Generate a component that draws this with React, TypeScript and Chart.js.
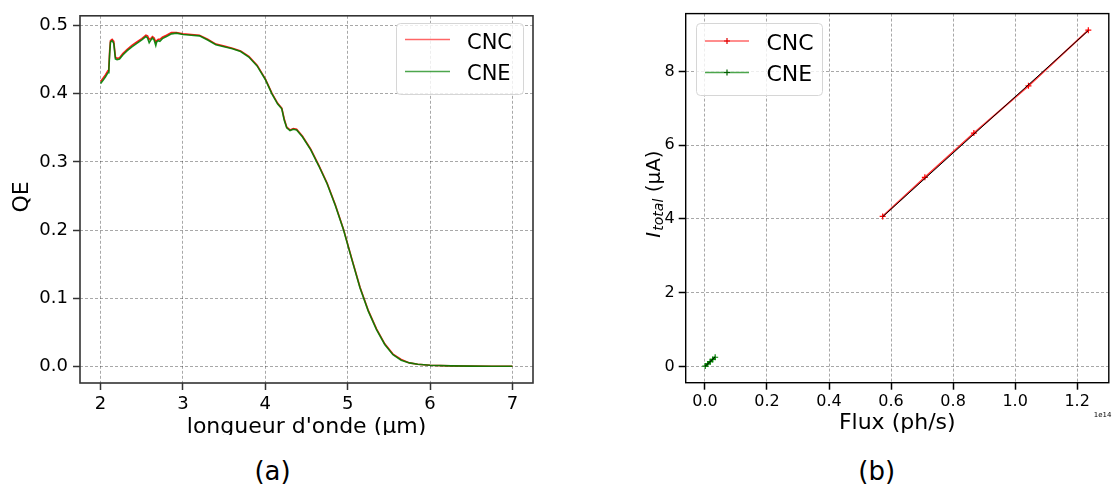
import React, { useEffect, useRef } from "react";
import { Chart, registerables } from "chart.js";
Chart.register(...registerables);

const FONT = '"DejaVu Sans", sans-serif';
Chart.defaults.font.family = FONT;

// ---------- (a) quantum efficiency vs wavelength ----------
const wavelength = [
  2.0, 2.03, 2.06, 2.09, 2.1, 2.11, 2.12, 2.14, 2.16, 2.18,
  2.2, 2.23, 2.27, 2.32, 2.38, 2.44, 2.5, 2.53, 2.55, 2.57,
  2.59, 2.61, 2.63, 2.65, 2.67, 2.68, 2.7, 2.72, 2.75, 2.8,
  2.86, 2.92, 3.0, 3.1, 3.2, 3.3, 3.4, 3.5, 3.6, 3.7,
  3.8, 3.9, 4.0, 4.08, 4.15, 4.2, 4.23, 4.26, 4.3, 4.34,
  4.38, 4.45, 4.55, 4.65, 4.75, 4.85, 4.95, 5.05, 5.15, 5.25,
  5.35, 5.45, 5.55, 5.65, 5.75, 5.85, 6.0, 6.25, 6.5, 6.75, 7.0,
];
const qeCNC = [
  0.418, 0.423, 0.428, 0.434, 0.438, 0.463, 0.478, 0.48, 0.477, 0.454,
  0.452, 0.453, 0.459, 0.465, 0.471, 0.476, 0.481, 0.484, 0.486, 0.485,
  0.48, 0.481, 0.484, 0.482, 0.476, 0.478, 0.48, 0.48, 0.483, 0.486,
  0.49, 0.49, 0.488, 0.487, 0.486, 0.48, 0.473, 0.47, 0.467, 0.463,
  0.455, 0.442, 0.422, 0.401, 0.386, 0.379, 0.363, 0.351, 0.347, 0.349,
  0.348, 0.338, 0.319, 0.295, 0.269, 0.237, 0.201, 0.158, 0.116, 0.082,
  0.055, 0.033, 0.018, 0.01, 0.005, 0.003, 0.0015, 0.0006, 0.0003, 0.0001, 0.0,
];
const qeCNE = [
  0.415, 0.42, 0.425, 0.431, 0.435, 0.458, 0.476, 0.478, 0.474, 0.451,
  0.45, 0.451, 0.457, 0.463, 0.469, 0.474, 0.479, 0.482, 0.484, 0.482,
  0.475, 0.479, 0.482, 0.479, 0.471, 0.476, 0.478, 0.477, 0.481, 0.484,
  0.488, 0.489, 0.487, 0.486, 0.485, 0.479, 0.472, 0.469, 0.466, 0.462,
  0.454, 0.441, 0.421, 0.4, 0.385, 0.378, 0.361, 0.35, 0.346, 0.348,
  0.347, 0.337, 0.318, 0.294, 0.268, 0.236, 0.2, 0.157, 0.115, 0.081,
  0.054, 0.032, 0.017, 0.009, 0.005, 0.003, 0.0015, 0.0006, 0.0003, 0.0001, 0.0,
];
const qeXTicks = [2, 3, 4, 5, 6, 7];
const qeYTicks = [0, 0.1, 0.2, 0.3, 0.4, 0.5];

// ---------- (b) total current vs photon flux (flux in units of 1e14 ph/s) ----------
const fluxCNC = [0.573, 0.709, 0.867, 1.043, 1.236];
const currentCNC = [4.07, 5.13, 6.33, 7.61, 9.12];
const fluxCNE = [0.001, 0.009, 0.017, 0.025, 0.033];
const currentCNE = [0.01, 0.07, 0.13, 0.19, 0.25];
const fitFluxCNC = [0.573, 1.236];
const fitCurrentCNC = [4.06, 9.11];
const fitFluxCNE = [0.0, 0.033];
const fitCurrentCNE = [0.0, 0.26];
const fluxTicks = [0, 0.2, 0.4, 0.6, 0.8, 1.0, 1.2];
const currentTicks = [0, 2, 4, 6, 8];

const seriesNames = ["CNC", "CNE"];
const captions = ["(a)", "(b)"];

const zip = (xs: number[], ys: number[]) => xs.map((x, i) => ({ x, y: ys[i] }));

const GRID = "rgba(0,0,0,0.38)";

function roundRect(ctx: CanvasRenderingContext2D, x: number, y: number, w: number, h: number, r: number) {
  ctx.beginPath();
  ctx.moveTo(x + r, y);
  ctx.lineTo(x + w - r, y);
  ctx.arcTo(x + w, y, x + w, y + r, r);
  ctx.lineTo(x + w, y + h - r);
  ctx.arcTo(x + w, y + h, x + w - r, y + h, r);
  ctx.lineTo(x + r, y + h);
  ctx.arcTo(x, y + h, x, y + h - r, r);
  ctx.lineTo(x, y + r);
  ctx.arcTo(x, y, x + r, y, r);
  ctx.closePath();
}

type LegendSpec = {
  box: [number, number, number, number];
  lineX: [number, number];
  rowsY: number[];
  textX: number;
  baselines: number[];
  fontSize: number;
  colors: string[];
  markers: string[] | null;
};

function drawLegend(ctx: CanvasRenderingContext2D, s: LegendSpec) {
  const [x0, y0, x1, y1] = s.box;
  ctx.save();
  roundRect(ctx, x0 + 0.5, y0 + 0.5, x1 - x0, y1 - y0, 4);
  ctx.fillStyle = "rgba(255,255,255,0.8)";
  ctx.fill();
  ctx.strokeStyle = "#d6d6d6";
  ctx.lineWidth = 1;
  ctx.stroke();
  seriesNames.forEach((name, i) => {
    const y = s.rowsY[i];
    ctx.strokeStyle = s.colors[i];
    ctx.lineWidth = 1.6;
    ctx.beginPath();
    ctx.moveTo(s.lineX[0], y);
    ctx.lineTo(s.lineX[1], y);
    ctx.stroke();
    if (s.markers) {
      const mx = (s.lineX[0] + s.lineX[1]) / 2;
      ctx.strokeStyle = s.markers[i];
      ctx.lineWidth = 1.2;
      ctx.beginPath();
      ctx.moveTo(mx - 3, y);
      ctx.lineTo(mx + 3, y);
      ctx.moveTo(mx, y - 3);
      ctx.lineTo(mx, y + 3);
      ctx.stroke();
    }
    ctx.fillStyle = "#000";
    ctx.font = `${s.fontSize}px ${FONT}`;
    ctx.textAlign = "left";
    ctx.textBaseline = "alphabetic";
    ctx.fillText(name, s.textX, s.baselines[i]);
  });
  ctx.restore();
}

function frame(ctx: CanvasRenderingContext2D, a: any, color: string, w: number) {
  ctx.save();
  ctx.strokeStyle = color;
  ctx.lineWidth = w;
  ctx.strokeRect(a.left, a.top, a.right - a.left, a.bottom - a.top);
  ctx.restore();
}

function axisCommon(spine: string, ticks: number[], fmt: (v: number) => string, size: number, pad: number) {
  return {
    type: "linear" as const,
    afterBuildTicks: (scale: any) => {
      scale.ticks = ticks.map((v) => ({ value: v }));
    },
    ticks: {
      autoSkip: false,
      maxRotation: 0,
      color: "#000",
      padding: pad,
      font: { size, family: FONT },
      callback: (v: any) => fmt(Number(v)),
    },
    grid: {
      color: GRID,
      lineWidth: 0.9,
      borderDash: [3, 2],
      drawTicks: true,
      tickLength: 7,
      tickColor: spine,
      tickWidth: 1.5,
      tickBorderDash: [],
    },
    border: { display: false, dash: [3, 2] },
  };
}

function ChartA() {
  const ref = useRef<HTMLCanvasElement>(null);
  useEffect(() => {
    const spine = "#333";
    const decor = {
      id: "decorA",
      afterDraw(chart: any) {
        const ctx: CanvasRenderingContext2D = chart.ctx;
        const a = chart.chartArea;
        frame(ctx, a, spine, 1.6);
        drawLegend(ctx, {
          box: [396, 23, 523, 94],
          lineX: [405, 450],
          rowsY: [39.5, 71.5],
          textX: 467,
          baselines: [48.5, 80],
          fontSize: 21,
          colors: ["rgba(255,0,0,0.6)", "rgba(0,128,0,0.7)"],
          markers: null,
        });
        ctx.save();
        ctx.fillStyle = "#000";
        ctx.font = `22px ${FONT}`;
        ctx.textAlign = "center";
        ctx.textBaseline = "alphabetic";
        ctx.fillText("longueur d'onde (µm)", (a.left + a.right) / 2, 433);
        ctx.translate(28, 197);
        ctx.rotate(-Math.PI / 2);
        ctx.fillText("QE", 0, 0);
        ctx.restore();
      },
    };
    const chart = new Chart(ref.current as HTMLCanvasElement, {
      type: "line",
      data: {
        datasets: [
          {
            label: seriesNames[1],
            data: zip(wavelength, qeCNE),
            borderColor: "rgba(0,128,0,0.9)",
            borderWidth: 1.6,
            pointRadius: 0,
            order: 0,
          },
          {
            label: seriesNames[0],
            data: zip(wavelength, qeCNC),
            borderColor: "rgba(255,0,0,0.9)",
            borderWidth: 1.6,
            pointRadius: 0,
            order: 1,
          },
        ],
      },
      options: {
        responsive: false,
        animation: false,
        devicePixelRatio: 1,
        layout: { padding: { left: 0, right: 27, top: 11, bottom: 0 } },
        plugins: { legend: { display: false }, tooltip: { enabled: false } },
        scales: {
          x: {
            ...axisCommon(spine, qeXTicks, (v) => String(Math.round(v)), 18, 4),
            min: 1.75,
            max: 7.25,
            afterFit: (s: any) => {
              s.height = 52;
            },
          },
          y: {
            ...axisCommon(spine, qeYTicks, (v) => v.toFixed(1), 18, 5),
            min: -0.0245,
            max: 0.5145,
            afterFit: (s: any) => {
              s.width = 80;
            },
          },
        },
      } as any,
      plugins: [decor],
    });
    return () => chart.destroy();
  }, []);
  return (
    <canvas
      ref={ref}
      width={560}
      height={435}
      style={{ position: "absolute", left: 0, top: 0, width: 560, height: 435 }}
    />
  );
}

function ChartB() {
  const ref = useRef<HTMLCanvasElement>(null);
  useEffect(() => {
    const spine = "#000";
    const decor = {
      id: "decorB",
      afterDraw(chart: any) {
        const ctx: CanvasRenderingContext2D = chart.ctx;
        const a = chart.chartArea;
        frame(ctx, a, spine, 1.4);
        drawLegend(ctx, {
          box: [136, 23, 262, 95],
          lineX: [145, 189],
          rowsY: [41, 72.5],
          textX: 206.5,
          baselines: [49.5, 81],
          fontSize: 22,
          colors: ["rgba(255,0,0,0.6)", "rgba(0,128,0,0.7)"],
          markers: ["#e00000", "#006000"],
        });
        ctx.save();
        ctx.fillStyle = "#000";
        ctx.textBaseline = "alphabetic";
        ctx.font = `22px ${FONT}`;
        ctx.textAlign = "center";
        ctx.fillText("Flux (ph/s)", (a.left + a.right) / 2, 428.5);
        ctx.font = `7px ${FONT}`;
        ctx.textAlign = "right";
        ctx.fillText("1e14", 551.5, 417);
        // rotated y title: I_total (µA)
        ctx.translate(99.5, 194);
        ctx.rotate(-Math.PI / 2);
        ctx.textAlign = "left";
        ctx.font = `italic 20px ${FONT}`;
        const wI = ctx.measureText("I").width;
        ctx.font = `italic 14px ${FONT}`;
        const wSub = ctx.measureText("total").width;
        ctx.font = `20px ${FONT}`;
        const wRest = ctx.measureText(" (µA)").width;
        let x = -(wI + wSub + wRest + 1) / 2;
        ctx.font = `italic 20px ${FONT}`;
        ctx.fillText("I", x, 0);
        x += wI + 1;
        ctx.font = `italic 14px ${FONT}`;
        ctx.fillText("total", x, 3.5);
        x += wSub;
        ctx.font = `20px ${FONT}`;
        ctx.fillText(" (µA)", x, 0);
        ctx.restore();
      },
    };
    const cross = { pointStyle: "cross", pointRadius: 3, pointBorderWidth: 1.2 };
    const chart = new Chart(ref.current as HTMLCanvasElement, {
      type: "line",
      data: {
        datasets: [
          {
            label: "fit " + seriesNames[0],
            data: zip(fitFluxCNC, fitCurrentCNC),
            borderColor: "#000",
            borderWidth: 1,
            pointRadius: 0,
            order: 0,
          },
          {
            label: "fit " + seriesNames[1],
            data: zip(fitFluxCNE, fitCurrentCNE),
            borderColor: "#000",
            borderWidth: 1,
            pointRadius: 0,
            order: 0,
          },
          {
            label: seriesNames[0],
            data: zip(fluxCNC, currentCNC),
            borderColor: "rgba(255,0,0,0.8)",
            borderWidth: 1.8,
            pointBorderColor: "#ff0000",
            ...cross,
            order: 1,
          },
          {
            label: seriesNames[1],
            data: zip(fluxCNE, currentCNE),
            borderColor: "rgba(0,128,0,0.9)",
            borderWidth: 2.4,
            pointBorderColor: "#008000",
            ...cross,
            order: 1,
          },
        ],
      },
      options: {
        responsive: false,
        animation: false,
        devicePixelRatio: 1,
        layout: { padding: { left: 0, right: 1.3, top: 12.3, bottom: 0 } },
        plugins: { legend: { display: false }, tooltip: { enabled: false } },
        scales: {
          x: {
            ...axisCommon(spine, fluxTicks, (v) => v.toFixed(1), 16, 3),
            min: -0.062,
            max: 1.302,
            afterFit: (s: any) => {
              s.height = 57.3;
            },
          },
          y: {
            ...axisCommon(spine, currentTicks, (v) => String(Math.round(v)), 16, 4),
            min: -0.44,
            max: 9.57,
            afterFit: (s: any) => {
              s.width = 125.7;
            },
          },
        },
      } as any,
      plugins: [decor],
    });
    return () => chart.destroy();
  }, []);
  return (
    <canvas
      ref={ref}
      width={554}
      height={440}
      style={{ position: "absolute", left: 560, top: 0, width: 554, height: 440 }}
    />
  );
}

export default function App() {
  const capStyle = (cx: number): React.CSSProperties => ({
    position: "absolute",
    left: cx - 60,
    top: 455.5,
    width: 120,
    textAlign: "center",
    fontFamily: FONT,
    fontSize: 26,
    lineHeight: "30px",
    color: "#000",
  });
  return (
    <div
      style={{
        position: "absolute",
        left: 0,
        top: 0,
        width: 1114,
        height: 486,
        background: "#fff",
        overflow: "hidden",
      }}
    >
      <ChartA />
      <ChartB />
      <div style={capStyle(272.5)}>{captions[0]}</div>
      <div style={capStyle(876.7)}>{captions[1]}</div>
    </div>
  );
}
